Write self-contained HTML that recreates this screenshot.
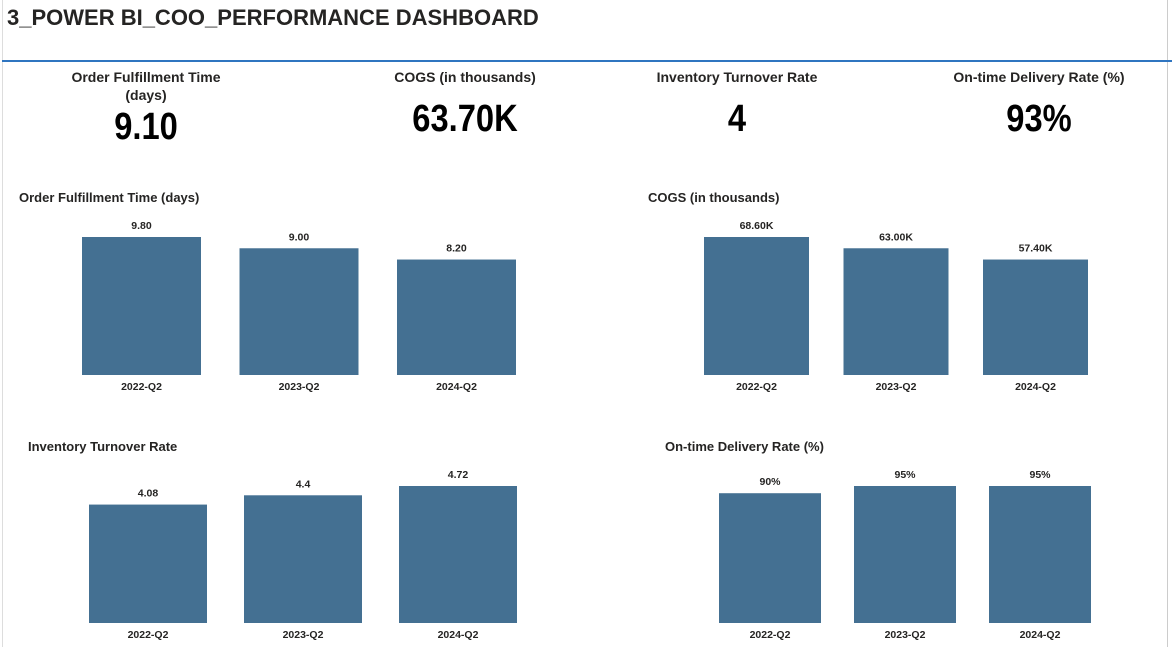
<!DOCTYPE html>
<html><head><meta charset="utf-8"><style>
body{margin:0;width:1172px;height:647px;background:#fff;font-family:"Liberation Sans Narrow","Liberation Sans",sans-serif;overflow:hidden;position:relative;color:#222}
.abs{position:absolute}
.kl{position:absolute;font-size:14px;font-weight:bold;text-align:center;width:240px;line-height:18px;color:#252423}
.kv{position:absolute;font-size:38px;font-weight:bold;text-align:center;width:240px;color:#000;transform:scaleX(0.86)}
</style></head><body>
<div class="abs" style="left:2px;top:0;width:1px;height:647px;background:#ddd"></div>
<div class="abs" style="left:1167px;top:0;width:1px;height:647px;background:#ccc"></div>
<div class="abs" style="left:7px;top:5px;font-size:22px;font-weight:bold;color:#252423;font-family:'Liberation Sans',sans-serif">3_POWER BI_COO_PERFORMANCE DASHBOARD</div>
<div class="abs" style="left:2px;top:60px;width:1170px;height:2px;background:#2f75c0"></div>

<div class="kl" style="left:26px;top:68px">Order Fulfillment Time<br>(days)</div>
<div class="kv" style="left:26px;top:106px">9.10</div>
<div class="kl" style="left:345px;top:68px">COGS (in thousands)</div>
<div class="kv" style="left:345px;top:98px">63.70K</div>
<div class="kl" style="left:617px;top:68px">Inventory Turnover Rate</div>
<div class="kv" style="left:617px;top:98px">4</div>
<div class="kl" style="left:919px;top:68px">On-time Delivery Rate (%)</div>
<div class="kv" style="left:919px;top:98px">93%</div>

<svg id="svg" class="abs" style="left:0;top:0" width="1172" height="647"></svg>
<script>
const categories=["2022-Q2","2023-Q2","2024-Q2"];
const fulfillmentValues=[9.80,9.00,8.20];
const fulfillmentLabels=["9.80","9.00","8.20"];
const cogsValues=[68.6,63.0,57.4];
const cogsLabels=["68.60K","63.00K","57.40K"];
const turnoverValues=[4.08,4.4,4.72];
const turnoverLabels=["4.08","4.4","4.72"];
const ontimeValues=[90,95,95];
const ontimeLabels=["90%","95%","95%"];
const NS="http://www.w3.org/2000/svg";
const svg=document.getElementById('svg');
function txt(x,y,s,size,anchor,name){
  const t=document.createElementNS(NS,'text');
  t.setAttribute('x',x);t.setAttribute('y',y);t.setAttribute('font-size',size);
  t.setAttribute('font-weight','bold');t.setAttribute('text-anchor',anchor);t.setAttribute('fill','#252423');
  t.textContent=s;
  
  
  svg.appendChild(t);
}
function chart(cfg){
  txt(cfg.tx,cfg.ty,cfg.title,13,'start',cfg.id+'-title');
  const scale=cfg.fullH/cfg.maxV;
  cfg.vals.forEach((v,i)=>{
    const x=cfg.x0+i*cfg.step, h=v*scale, y=cfg.base-h;
    const r=document.createElementNS(NS,'rect');
    r.setAttribute('x',x);r.setAttribute('y',y);r.setAttribute('width',cfg.w);r.setAttribute('height',h);
    r.setAttribute('fill','#447092');
    
    
    svg.appendChild(r);
    txt(x+cfg.w/2,y-8,cfg.labels[i],10.5,'middle',cfg.id+'-value-label');
    txt(x+cfg.w/2,cfg.base+15,categories[i],10.5,'middle',cfg.id+'-x-label');
  });
}
chart({id:'fulfillment',title:'Order Fulfillment Time (days)',tx:19,ty:202,vals:fulfillmentValues,labels:fulfillmentLabels,x0:82,step:157.5,w:119,base:375,maxV:9.8,fullH:138});
chart({id:'cogs',title:'COGS (in thousands)',tx:648,ty:202,vals:cogsValues,labels:cogsLabels,x0:704,step:139.5,w:105,base:375,maxV:68.6,fullH:138});
chart({id:'turnover',title:'Inventory Turnover Rate',tx:28,ty:451,vals:turnoverValues,labels:turnoverLabels,x0:89,step:155,w:118,base:623,maxV:4.72,fullH:137});
chart({id:'ontime',title:'On-time Delivery Rate (%)',tx:665,ty:451,vals:ontimeValues,labels:ontimeLabels,x0:719,step:135,w:102,base:623,maxV:95,fullH:137});
</script>
</body></html>
